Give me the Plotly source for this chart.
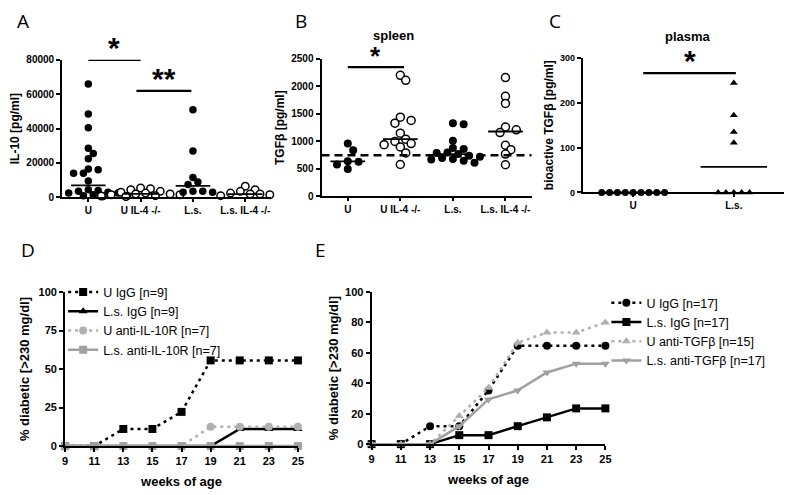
import plotly.graph_objects as go

# figure is drawn inside the page body (8px default margin), so work in
# page pixel coordinates and convert.
PAGE_W, PAGE_H = 800, 495
OFF = 8
W, H = PAGE_W - OFF, PAGE_H - OFF
FONT = "Liberation Sans, Arial, sans-serif"

# ---------------- Panel A: IL-10 ----------------
a_cats = ["U", "U IL-4 -/-", "L.s.", "L.s. IL-4 -/-"]
a_U = [66000, 48500, 40500, 28500, 25500, 22500, 16500, 16000, 14000, 14000, 9500,
       4500, 4000, 3500, 3000, 2500, 2500, 2000, 1500, 1000, 800, 500]
a_UIL4 = [5500, 5000, 4500, 3500, 3000, 2500, 2000, 2000, 1500, 1500, 1000, 800, 500]
a_Ls = [51000, 27000, 11500, 9000, 7500, 3500, 3500, 3000, 3000]
a_LsIL4 = [6500, 4500, 3500, 2500, 2000, 2000, 1500, 1000, 1000]
a_medians = [7000, 2000, 6700, 1900]
a_filled = [True, False, True, False]
a_sig = [(0.0, 1.0, 80000, "*"), (0.92, 1.97, 62000, "**")]

# ---------------- Panel B: TGFb spleen ----------------
b_cats = ["U", "U IL-4 -/-", "L.s.", "L.s. IL-4 -/-"]
b_U = [960, 840, 640, 630, 580, 500]
b_UIL4 = [2200, 2110, 1440, 1380, 1330, 1150, 1040, 1000, 960, 940, 900, 790, 580]
b_Ls = [1330, 1310, 1010, 880, 860, 800, 790, 770, 740, 720, 700, 680, 670, 650, 610]
b_LsIL4 = [2160, 1820, 1690, 1260, 1210, 1160, 930, 850, 770, 575]
b_medians = [635, 1040, 770, 1180]
b_filled = [True, False, True, False]
b_ref = 750
b_sig = [(0.0, 1.07, 2350, "*")]

# ---------------- Panel C: bioactive TGFb plasma ----------------
c_cats = ["U", "L.s."]
c_U = [0, 0, 0, 0, 0, 0, 0, 0, 0]
c_Ls = [244, 172, 135, 111, 0, 0, 0, 0, 0]
c_lines = [0, 57]
c_sig = [(0.1, 1.02, 266, "*")]

# ---------------- Panel D ----------------
weeks = [9, 11, 13, 15, 17, 19, 21, 23, 25]
d_names = ["U IgG [n=9]", "L.s. IgG [n=9]", "U anti-IL-10R [n=7]", "L.s. anti-IL-10R [n=7]"]
d_U_IgG = [0, 0, 11.1, 11.1, 22.2, 55.6, 55.6, 55.6, 55.6]
d_Ls_IgG = [0, 0, 0, 0, 0, 0, 11.1, 11.1, 11.1]
d_U_anti = [0, 0, 0, 0, 0, 12.5, 12.5, 12.5, 12.5]
d_Ls_anti = [0, 0, 0, 0, 0, 0, 0, 0, 0]

# ---------------- Panel E ----------------
e_names = ["U IgG [n=17]", "L.s. IgG [n=17]", "U anti-TGFβ [n=15]", "L.s. anti-TGFβ [n=17]"]
e_U_IgG = [0, 0, 11.8, 11.8, 35.3, 64.7, 64.7, 64.7, 64.7]
e_Ls_IgG = [0, 0, 0, 5.9, 5.9, 11.8, 17.6, 23.5, 23.5]
e_U_anti = [0, 0, 0, 18.5, 37, 66.7, 73.3, 73.3, 80]
e_Ls_anti = [0, 0, 0, 11.8, 29.4, 35.3, 47.1, 52.9, 52.9]


def px2x(px):
    return (px - OFF) / W


def py2y(py):
    return 1 - (py - OFF) / H


def dom_x(a, b):
    return [px2x(a), px2x(b)]


def dom_y(top, bot):
    return [py2y(bot), py2y(top)]


doms = {
    "A": (dom_x(55, 268), dom_y(55, 196)),
    "B": (dom_x(319, 533), dom_y(54, 195)),
    "C": (dom_x(585, 790), dom_y(53, 191)),
    "D": (dom_x(58, 295), dom_y(293, 451)),
    "E": (dom_x(370, 608), dom_y(293, 449)),
}


def swarm(values, ppu_x, ppu_y, dist, step):
    """Simple beeswarm: horizontal offsets (category units) limiting overlap."""
    placed = []
    offs = []
    for v in values:
        py = v * ppu_y
        cands = [0]
        for i in range(1, 60):
            cands += [i, -i]
        for c in cands:
            px = c * step
            if all((px - qx) ** 2 + (py - qy) ** 2 >= dist ** 2 for qx, qy in placed):
                placed.append((px, py))
                offs.append(px / ppu_x)
                break
    return offs


fig = go.Figure()
BLACK = "black"
GRAY_D = "#b0b0b0"
GRAY_S = "#a0a0a0"


def add_dot_panel(groups, filled, medians, cats, xa, ya, ymax, key, msize=7.5,
                  symbols=None, half=0.33, dist=5.5, step=4.5):
    xd, yd = doms[key]
    ppu_x = (xd[1] - xd[0]) * W / len(cats)
    ppu_y = (yd[1] - yd[0]) * H / ymax
    for i, vals in enumerate(groups):
        offs = swarm(vals, ppu_x, ppu_y, dist, step)
        sym = symbols[i] if symbols else "circle"
        fig.add_trace(go.Scatter(
            x=[i + o for o in offs], y=vals, mode="markers", xaxis=xa, yaxis=ya,
            showlegend=False, cliponaxis=False,
            marker=dict(symbol=sym, size=msize,
                        color=BLACK if filled[i] else "white",
                        line=dict(color=BLACK, width=0 if filled[i] else 1.5))))
    for i, m in enumerate(medians):
        fig.add_trace(go.Scatter(
            x=[i - half, i + half], y=[m, m], mode="lines", xaxis=xa, yaxis=ya,
            showlegend=False, cliponaxis=False, line=dict(color=BLACK, width=1.8)))


# Panel A
add_dot_panel([a_U, a_UIL4, a_Ls, a_LsIL4], a_filled, a_medians, a_cats, "x", "y", 80000, "A",
              msize=7.5, dist=6.5, step=5)
# Panel B
add_dot_panel([b_U, b_UIL4, b_Ls, b_LsIL4], b_filled, b_medians, b_cats, "x2", "y2", 2500, "B",
              msize=8, dist=7, step=5.5)
fig.add_trace(go.Scatter(x=[-0.5, 3.5], y=[b_ref, b_ref], mode="lines", xaxis="x2", yaxis="y2",
                         showlegend=False, cliponaxis=False,
                         line=dict(color=BLACK, width=2.5, dash="8px,5px")))
# Panel C
add_dot_panel([c_U, c_Ls], [True, True], c_lines, c_cats, "x3", "y3", 300, "C", msize=7,
              symbols=["circle", "triangle-up"], dist=7.5, step=8)

# Panel D
d_series = [
    (d_U_IgG, d_names[0], BLACK, "square", "3px,4px"),
    (d_Ls_IgG, d_names[1], BLACK, "triangle-up", "solid"),
    (d_U_anti, d_names[2], GRAY_D, "circle", "3px,4px"),
    (d_Ls_anti, d_names[3], GRAY_S, "square", "solid"),
]
for vals, name, col, sym, dash in d_series:
    fig.add_trace(go.Scatter(x=weeks, y=vals, name=name, mode="lines+markers",
                             xaxis="x4", yaxis="y4", legend="legend", cliponaxis=False,
                             line=dict(color=col, width=2.5, dash=dash),
                             marker=dict(symbol=sym, size=8, color=col)))

e_series = [
    (e_U_IgG, e_names[0], BLACK, "circle", "3px,4px"),
    (e_Ls_IgG, e_names[1], BLACK, "square", "solid"),
    (e_U_anti, e_names[2], GRAY_D, "triangle-up", "3px,4px"),
    (e_Ls_anti, e_names[3], GRAY_S, "triangle-down", "solid"),
]
for vals, name, col, sym, dash in e_series:
    fig.add_trace(go.Scatter(x=weeks, y=vals, name=name, mode="lines+markers",
                             xaxis="x5", yaxis="y5", legend="legend2", cliponaxis=False,
                             line=dict(color=col, width=2.5, dash=dash),
                             marker=dict(symbol=sym, size=8, color=col)))

tickfont_s = dict(family=FONT, size=10, color=BLACK, weight="bold")
tickfont_c = dict(family=FONT, size=9, color=BLACK, weight="bold")
tickfont_l = dict(family=FONT, size=11, color=BLACK, weight="bold")
titlefont = dict(family=FONT, size=12, color=BLACK, weight="bold")
titlefont_l = dict(family=FONT, size=13, color=BLACK, weight="bold")


def xcat(key, cats, anchor):
    return dict(domain=doms[key][0], anchor=anchor, range=[-0.5, len(cats) - 0.5],
                tickmode="array", tickvals=list(range(len(cats))), ticktext=cats,
                showline=True, linecolor=BLACK, linewidth=2, ticks="outside", ticklen=3,
                tickwidth=1.5, tickcolor=BLACK, showgrid=False, zeroline=False,
                tickfont=tickfont_s, fixedrange=True)


def yax(key, anchor, rng, dtick, title, tf=tickfont_s, ttf=titlefont, standoff=6):
    return dict(domain=doms[key][1], anchor=anchor, range=rng, dtick=dtick, tick0=0,
                tickformat="d",
                showline=True, linecolor=BLACK, linewidth=2, ticks="outside", ticklen=4,
                tickwidth=1.5, tickcolor=BLACK, showgrid=False, zeroline=False,
                tickfont=tf, title=dict(text=title, font=ttf, standoff=standoff))


def xnum(key, anchor):
    return dict(domain=doms[key][0], anchor=anchor, range=[9, 25], tickmode="array",
                tickvals=weeks, showline=True, linecolor=BLACK, linewidth=2,
                ticks="outside", ticklen=4, tickwidth=1.5, tickcolor=BLACK,
                showgrid=False, zeroline=False, tickfont=tickfont_l,
                title=dict(text="weeks of age", font=titlefont_l, standoff=11))


fig.update_layout(
    width=W, height=H, margin=dict(l=0, r=0, t=0, b=0),
    paper_bgcolor="white", plot_bgcolor="white",
    font=dict(family=FONT, color=BLACK),
    xaxis=xcat("A", a_cats, "y"),
    yaxis=yax("A", "x", [0, 80000], 20000, "IL-10 [pg/ml]", standoff=10),
    xaxis2=xcat("B", b_cats, "y2"),
    yaxis2=yax("B", "x2", [0, 2500], 500, "TGFβ [pg/ml]", standoff=4),
    xaxis3=xcat("C", c_cats, "y3"),
    yaxis3=yax("C", "x3", [0, 300], 100, "bioactive TGFβ [pg/ml]", tf=tickfont_c, standoff=4),
    xaxis4=xnum("D", "y4"),
    yaxis4=yax("D", "x4", [0, 100], 25, "% diabetic [>230 mg/dl]", tickfont_l, titlefont_l),
    xaxis5=xnum("E", "y5"),
    yaxis5=yax("E", "x5", [0, 100], 20, "% diabetic [>230 mg/dl]", tickfont_l, titlefont_l,
               standoff=3),
    legend=dict(x=px2x(56), y=py2y(278), xanchor="left", yanchor="top",
                bgcolor="rgba(0,0,0,0)", font=dict(family=FONT, size=12.5, color=BLACK),
                tracegroupgap=0, itemwidth=30),
    legend2=dict(x=px2x(609), y=py2y(289), xanchor="left", yanchor="top",
                 bgcolor="rgba(0,0,0,0)", font=dict(family=FONT, size=12.5, color=BLACK),
                 tracegroupgap=0, itemwidth=30),
)


def add_sig(sigs, xa, ya, size=30, yshift=-6):
    for x0, x1, yv, txt in sigs:
        fig.add_shape(type="line", xref=xa, yref=ya, x0=x0, x1=x1, y0=yv, y1=yv,
                      line=dict(color=BLACK, width=2.2))
        fig.add_annotation(x=(x0 + x1) / 2, y=yv, xref=xa, yref=ya, text=txt,
                           showarrow=False, yanchor="bottom", yshift=yshift,
                           font=dict(family=FONT, size=size, color=BLACK, weight="bold"))


add_sig(a_sig, "x", "y")
add_sig(b_sig, "x2", "y2", size=26, yshift=-6)
add_sig(c_sig, "x3", "y3")

for letter, px, py in [("A", 15, 15), ("B", 298, 15), ("C", 557, 15), ("D", 20, 250), ("E", 318, 250)]:
    fig.add_annotation(x=px2x(px), y=py2y(py), xref="paper", yref="paper", text=letter,
                       showarrow=False, xanchor="center", yanchor="middle",
                       font=dict(family="Open Sans, Liberation Sans, sans-serif", size=19, color=BLACK))
for t, px, py in [("spleen", 392, 30), ("plasma", 692, 31)]:
    fig.add_annotation(x=px2x(px), y=py2y(py), xref="paper", yref="paper", text=t,
                       showarrow=False, xanchor="center", yanchor="middle",
                       font=dict(family=FONT, size=13, color=BLACK, weight="bold"))

fig.write_html("out.html")
